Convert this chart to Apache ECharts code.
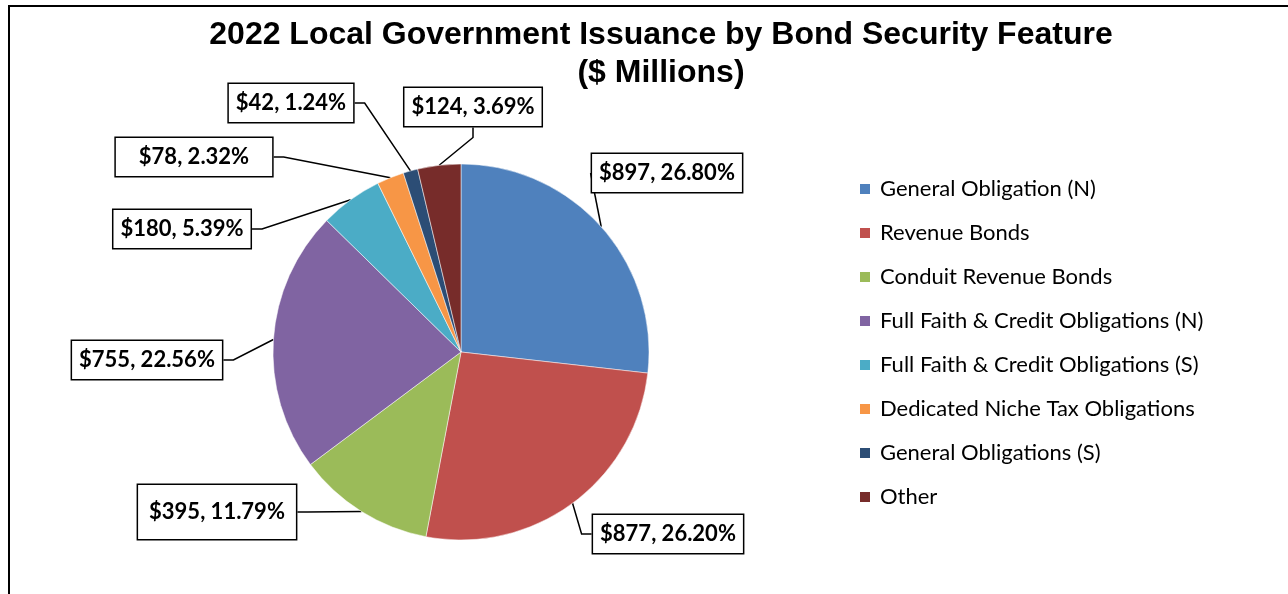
<!DOCTYPE html>
<html>
<head>
<meta charset="utf-8">
<script src="https://cdn.jsdelivr.net/npm/echarts@6/dist/echarts.min.js"></script>
<style>
  html, body { margin: 0; padding: 0; background: #fff; }
  #chart { width: 1288px; height: 594px; }
</style>
</head>
<body>
<div id="chart"></div>
<script>
// data
const categories = [
    'General Obligation (N)',
    'Revenue Bonds',
    'Conduit Revenue Bonds',
    'Full Faith & Credit Obligations (N)',
    'Full Faith & Credit Obligations (S)',
    'Dedicated Niche Tax Obligations',
    'General Obligations (S)',
    'Other'
];
const amounts = [897, 877, 395, 755, 180, 78, 42, 124];
const percents = ['26.80%', '26.20%', '11.79%', '22.56%', '5.39%', '2.32%', '1.24%', '3.69%'];

const colors = ['#4F81BD', '#C0504D', '#9BBB59', '#8064A2', '#4BACC6', '#F79646', '#2C4D75', '#772C2A'];

// where the label boxes sit (centre), by slice
const labelSpots = [
    [667, 173], [668, 534], [217, 512], [147, 360],
    [182, 229], [194, 157], [291, 103], [473, 107]
];
const labelPads = [
    [7, 7], [7, 7], [15, 11], [7, 7],
    [7, 7], [7, 23], [7, 7], [7, 7]
];

const chart = echarts.init(document.getElementById('chart'));

const pieData = categories.map((name, i) => ({
    name: name,
    value: amounts[i],
    itemStyle: { color: colors[i] },
    label: { padding: labelPads[i] }
}));

const option = {
    animation: false,
    title: {
        text: '2022 Local Government Issuance by Bond Security Feature\n($ Millions)',
        left: 656,
        textAlign: 'center',
        top: 11,
        textStyle: {
            fontFamily: 'Liberation Sans',
            fontWeight: 'bold',
            fontSize: 32,
            lineHeight: 38,
            color: '#000'
        }
    },
    graphic: [{
        type: 'rect',
        shape: { x: 9, y: 6, width: 1300, height: 600 },
        style: { fill: 'none', stroke: '#000', lineWidth: 2 },
        silent: true
    }],
    legend: {
        orient: 'vertical',
        left: 853,
        top: 171,
        icon: 'rect',
        itemWidth: 12,
        itemHeight: 12,
        itemGap: 18,
        data: categories,
        formatter: name => '{t|' + name + '}',
        textStyle: {
            fontFamily: 'Lato',
            fontSize: 22,
            lineHeight: 26,
            color: '#000',
            rich: {
                t: {
                    fontFamily: 'Lato',
                    fontSize: 22,
                    lineHeight: 26,
                    color: '#000',
                    padding: [0, 0, 0, 4]
                }
            }
        }
    },
    series: [{
        type: 'pie',
        center: [461, 352],
        radius: 188,
        startAngle: 90,
        clockwise: true,
        data: pieData,
        itemStyle: { borderColor: '#fff', borderWidth: 0.5 },
        label: {
            show: true,
            position: 'outside',
            formatter: p => '$' + amounts[p.dataIndex] + ', ' + percents[p.dataIndex],
            fontFamily: 'Lato',
            fontWeight: 'bold',
            fontSize: 22,
            lineHeight: 24,
            color: '#000',
            backgroundColor: '#fff',
            borderColor: '#000',
            borderWidth: 1.5
        },
        labelLine: {
            show: true,
            length: 10,
            length2: 10,
            lineStyle: { color: '#000', width: 1.5 }
        },
        labelLayout: function (params) {
            const spot = labelSpots[params.dataIndex];
            return {
                x: spot[0],
                y: spot[1],
                align: 'center',
                verticalAlign: 'middle'
            };
        }
    }]
};

chart.setOption(option);
</script>
</body>
</html>
